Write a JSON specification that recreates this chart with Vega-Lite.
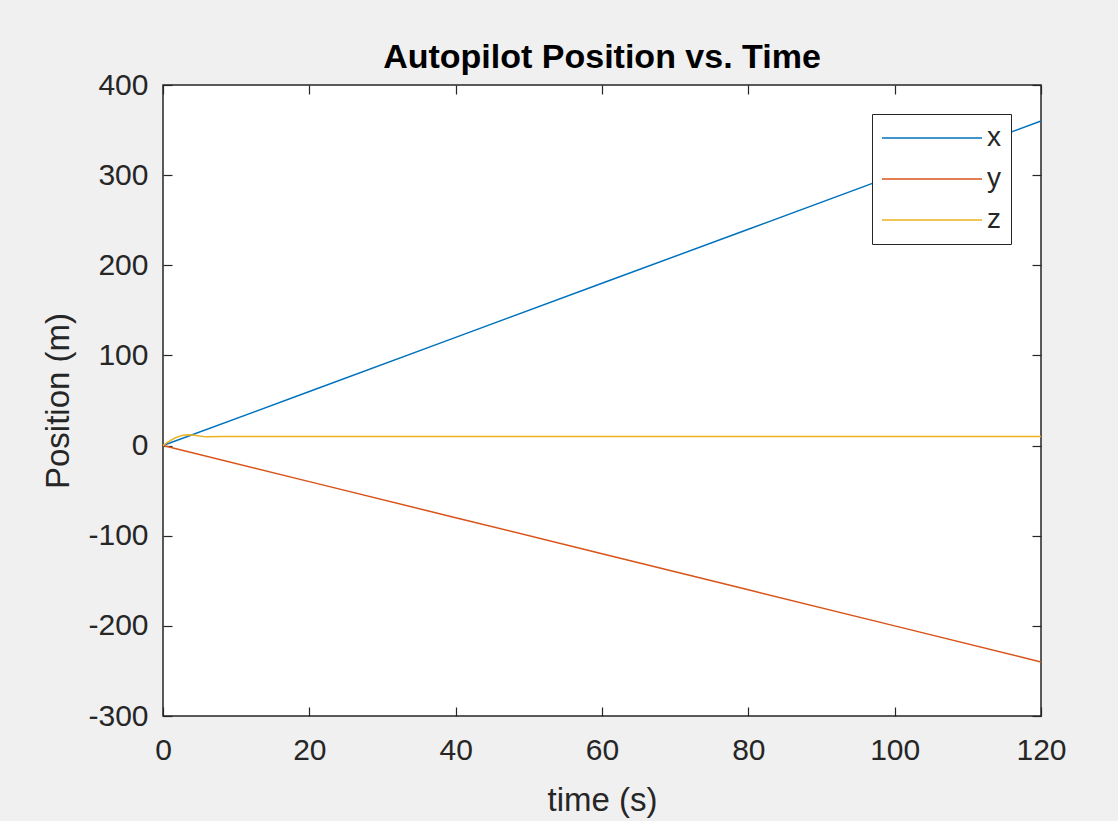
{
  "$schema": "https://vega.github.io/schema/vega-lite/v6.json",
  "width": 878,
  "height": 631,
  "autosize": "none",
  "padding": {"left": 163, "top": 85, "right": 77, "bottom": 105},
  "background": "#f0f0f0",
  "title": {
    "text": "Autopilot Position vs. Time",
    "font": "Liberation Sans",
    "fontSize": 34,
    "fontWeight": "bold",
    "color": "#000000",
    "anchor": "middle",
    "baseline": "alphabetic",
    "offset": 18,
    "dy": 50
  },
  "config": {
    "view": {"fill": "white", "stroke": "#262626", "strokeWidth": 1.5},
    "axis": {
      "grid": false,
      "domain": false,
      "labelFlush": false,
      "labelFont": "Liberation Sans",
      "labelFontSize": 30,
      "labelColor": "#262626",
      "labelExpr": "toString(datum.value)",
      "tickColor": "#262626",
      "tickWidth": 1.2,
      "titleFont": "Liberation Sans",
      "titleFontSize": 33,
      "titleFontWeight": "normal",
      "titleColor": "#262626"
    }
  },
  "data": {
    "values": [
      {"t": 0, "value": 0, "series": "x"},
      {"t": 20, "value": 60, "series": "x"},
      {"t": 40, "value": 120, "series": "x"},
      {"t": 60, "value": 180, "series": "x"},
      {"t": 80, "value": 240, "series": "x"},
      {"t": 100, "value": 300, "series": "x"},
      {"t": 120, "value": 360, "series": "x"},
      {"t": 0, "value": 0, "series": "y"},
      {"t": 20, "value": -40, "series": "y"},
      {"t": 40, "value": -80, "series": "y"},
      {"t": 60, "value": -120, "series": "y"},
      {"t": 80, "value": -160, "series": "y"},
      {"t": 100, "value": -200, "series": "y"},
      {"t": 120, "value": -240, "series": "y"},
      {"t": 0, "value": 0, "series": "z"},
      {"t": 0.5, "value": 3, "series": "z"},
      {"t": 1, "value": 5.5, "series": "z"},
      {"t": 1.5, "value": 7.8, "series": "z"},
      {"t": 2, "value": 9.6, "series": "z"},
      {"t": 2.5, "value": 11, "series": "z"},
      {"t": 3, "value": 11.8, "series": "z"},
      {"t": 3.5, "value": 12, "series": "z"},
      {"t": 4, "value": 11.7, "series": "z"},
      {"t": 4.5, "value": 11.1, "series": "z"},
      {"t": 5, "value": 10.5, "series": "z"},
      {"t": 5.5, "value": 10.1, "series": "z"},
      {"t": 6, "value": 9.9, "series": "z"},
      {"t": 8, "value": 10, "series": "z"},
      {"t": 120, "value": 10, "series": "z"}
    ]
  },
  "layer": [
    {
      "mark": {"type": "line", "strokeWidth": 1.5},
      "encoding": {
        "x": {
          "field": "t", "type": "quantitative",
          "scale": {"domain": [0, 120], "nice": false},
          "axis": {"values": [0, 20, 40, 60, 80, 100, 120], "title": "time (s)", "tickSize": -9, "labelPadding": 28, "titlePadding": 19, "orient": "bottom"}
        },
        "y": {
          "field": "value", "type": "quantitative",
          "scale": {"domain": [-300, 400], "nice": false, "zero": false},
          "axis": {"values": [-300, -200, -100, 0, 100, 200, 300, 400], "title": "Position (m)", "tickSize": -9, "labelPadding": 24, "titlePadding": 12, "orient": "left"}
        },
        "color": {
          "field": "series", "type": "nominal",
          "scale": {"domain": ["x", "y", "z"], "range": ["#0072BD", "#D95319", "#EDB120"]},
          "legend": {
            "title": null,
            "orient": "none",
            "legendX": 709,
            "legendY": 29,
            "symbolType": "M-5,0H5",
            "symbolSize": 400,
            "symbolOffset": 36,
            "labelOffset": 41,
            "symbolStrokeWidth": 1.5,
            "labelFont": "Liberation Sans",
            "labelFontSize": 28,
            "labelColor": "#262626",
            "rowPadding": 13,
            "fillColor": "white",
            "strokeColor": "#262626",
            "padding": 10
          }
        }
      }
    },
    {
      "mark": {"type": "point", "opacity": 0},
      "encoding": {
        "x": {
          "field": "t", "type": "quantitative",
          "axis": {"values": [0, 20, 40, 60, 80, 100, 120], "title": null, "labels": false, "tickSize": -9, "orient": "top"}
        },
        "y": {
          "field": "value", "type": "quantitative",
          "axis": {"values": [-300, -200, -100, 0, 100, 200, 300, 400], "title": null, "labels": false, "tickSize": -9, "orient": "right"}
        }
      }
    }
  ],
  "resolve": {"axis": {"x": "independent", "y": "independent"}}
}
